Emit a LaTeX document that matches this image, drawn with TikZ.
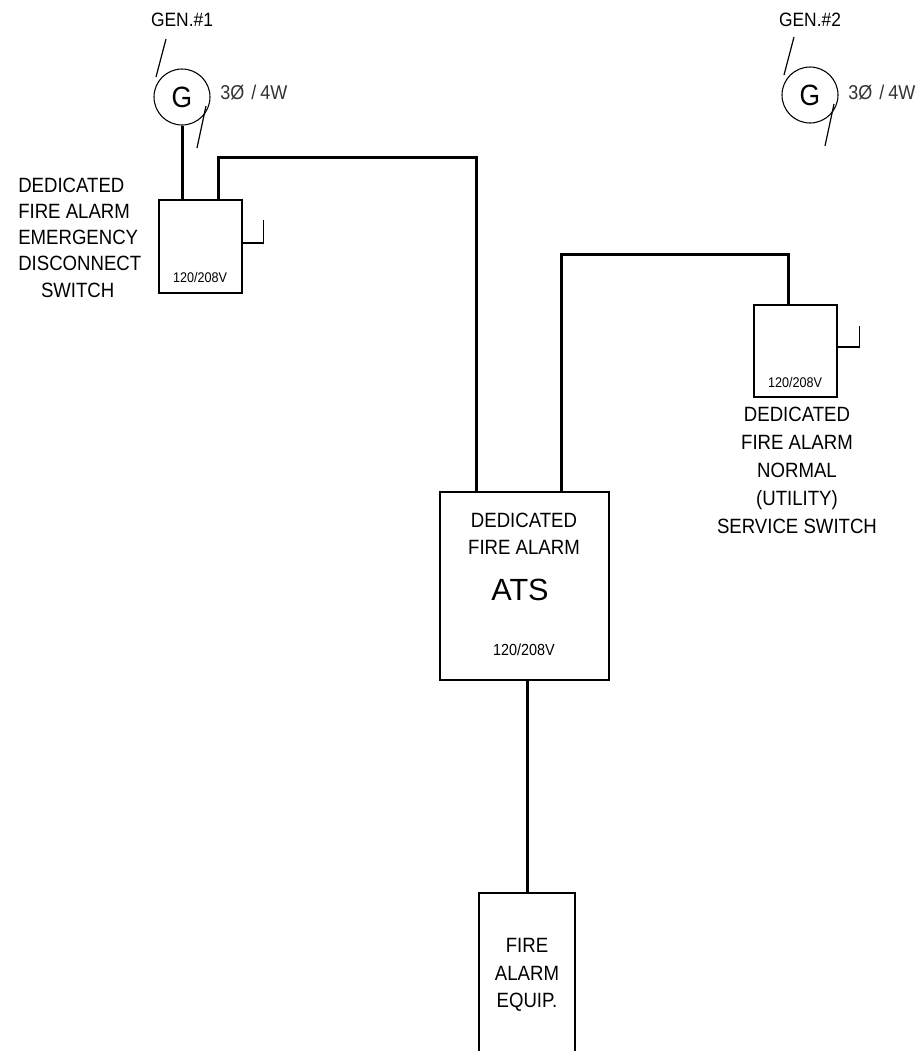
\documentclass[tikz,border=0pt]{standalone}
\usepackage{fontspec}
\setmainfont{Liberation Sans}[FakeStretch=0.9]
\newfontfamily\atsfont{Liberation Sans}
\usetikzlibrary{calc}
\begin{document}
\begin{tikzpicture}[x=0.75pt,y=-0.75pt,
    box/.style={draw, line width=1.1pt, inner sep=0pt},
    gen/.style={draw, circle, line width=0.8pt, minimum size=42pt, inner sep=0pt, font=\fontsize{22}{24}\selectfont},
    wire/.style={line width=2.25pt},
    thin/.style={line width=0.9pt},
    lbl/.style={align=center, inner sep=0pt, font=\fontsize{15.5}{19.7}\selectfont},
    phase/.style={anchor=west, inner sep=0pt, text=black!80, font=\fontsize{15}{17}\selectfont},
    volts/.style={inner sep=0pt, font=\fontsize{10.5}{12}\selectfont}]
    \useasboundingbox (0,0) rectangle (924,1051);

    \node[gen] (g1) at (182,97) {G};
    \node[gen] (g2) at (810,95) {G};
    \node[box, minimum width=62.25pt, minimum height=69.75pt] (b1) at (200.5,246.5) {};
    \node[box, minimum width=62.25pt, minimum height=69pt] (b2) at (795.5,351) {};
    \node[box, minimum width=126.75pt, minimum height=141pt] (ats) at (524.5,586) {};
    \node[box, minimum width=72pt, minimum height=135pt] (fa) at (527,983) {};

    \node[lbl, font=\fontsize{14.5}{16}\selectfont] (g1name) at (182,20) {GEN.\#1};
    \node[lbl, font=\fontsize{14.5}{16}\selectfont] (g2name) at (810,20) {GEN.\#2};
    \node[phase] (g1ph) at (220,93) {3Ø\hspace{0.35em}/\hspace{0.2em}4W};
    \node[phase] (g2ph) at (848,93) {3Ø\hspace{0.35em}/\hspace{0.2em}4W};

    \node[lbl, align=left, anchor=west] (b1txt) at (18,237.5) {DEDICATED\\FIRE ALARM\\EMERGENCY\\DISCONNECT\\\hspace*{1.1em}SWITCH};
    \node[lbl, font=\fontsize{15.5}{21}\selectfont] (b2txt) at (797,470) {DEDICATED\\FIRE ALARM\\NORMAL\\(UTILITY)\\SERVICE SWITCH};
    \node[volts] (b1v) at (200,277) {120/208V};
    \node[volts] (b2v) at (795,382) {120/208V};

    \node[lbl, font=\fontsize{15.5}{20.3}\selectfont] (atstxt) at (524,533.5) {DEDICATED\\FIRE ALARM};
    \node[inner sep=0pt, font=\atsfont\fontsize{23}{26}\selectfont] (atsname) at (520,590) {ATS};
    \node[volts, font=\fontsize{12}{14}\selectfont] (atsv) at (524,650) {120/208V};
    \node[lbl, font=\fontsize{15.5}{20.6}\selectfont] (fatxt) at (527,975) {FIRE\\ALARM\\EQUIP.};

    % feeders
    \draw[wire] (g1) -- (g1 |- b1.north);
    \draw[wire] ($(b1.north)+(17.5,0)$) -- ++(0,-42) -| ($(ats.north)+(-48.5,0)$);
    \draw[wire] ($(b2.north)+(-7.5,0)$) -- ++(0,-50) -| ($(ats.north)+(36.5,0)$);
    \draw[wire] (ats.south -| fa.north) -- (fa.north);

    % switch handles
    \draw[thin] ($(b1.east)+(0,-3.5)$) -- ++(21,0) -- ++(0,-23);
    \draw[thin] ($(b2.east)+(0,-4)$) -- ++(22,0) -- ++(0,-21);

    % leaders on generators
    \foreach \g in {g1,g2} {
        \draw[thin] ($(\g)+(-16,-58)$) -- ($(\g)+(-26,-20)$);
        \draw[thin] ($(\g)+(24,9)$) -- ($(\g)+(15,51)$);
    }
\end{tikzpicture}
\end{document}
